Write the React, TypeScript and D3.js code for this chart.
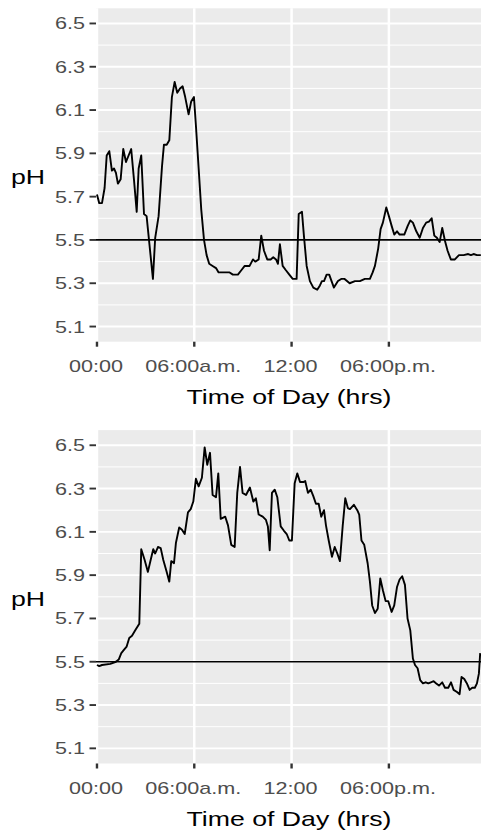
import React, { useEffect, useRef } from "react";
import * as d3 from "d3";

// hours since midnight and pH readings, day 1 (top) and day 2 (bottom)
const topHours = [0, 0.14, 0.31, 0.47, 0.6, 0.76, 0.92, 1.05, 1.17, 1.29, 1.46, 1.62, 1.79, 1.95, 2.11, 2.28, 2.45, 2.57, 2.73, 2.9, 3.06, 3.45, 3.59, 3.8, 4.01, 4.13, 4.3, 4.46, 4.54, 4.62, 4.79, 4.95, 5.12, 5.28, 5.44, 5.65, 5.81, 5.98, 6.1, 6.27, 6.43, 6.6, 6.76, 6.92, 7.13, 7.34, 7.5, 7.71, 8.18, 8.38, 8.69, 8.9, 9.11, 9.41, 9.62, 9.76, 9.97, 10.13, 10.3, 10.5, 10.71, 10.87, 11.04, 11.16, 11.28, 11.45, 11.65, 11.86, 12.07, 12.31, 12.44, 12.64, 12.76, 12.93, 13.13, 13.34, 13.58, 13.75, 13.87, 14.0, 14.16, 14.32, 14.61, 14.86, 15.06, 15.27, 15.58, 15.91, 16.21, 16.52, 16.83, 17.0, 17.14, 17.34, 17.49, 17.63, 17.84, 18.0, 18.17, 18.33, 18.5, 18.66, 18.95, 19.16, 19.32, 19.48, 19.69, 19.9, 20.1, 20.3, 20.47, 20.64, 20.8, 20.96, 21.13, 21.29, 21.46, 21.62, 21.82, 22.07, 22.32, 22.61, 22.89, 23.06, 23.22, 23.43, 23.67];
const topPH = [5.71, 5.67, 5.67, 5.74, 5.89, 5.91, 5.82, 5.83, 5.81, 5.76, 5.78, 5.92, 5.86, 5.89, 5.92, 5.78, 5.63, 5.83, 5.89, 5.62, 5.61, 5.32, 5.51, 5.61, 5.84, 5.94, 5.94, 5.96, 6.06, 6.16, 6.23, 6.18, 6.2, 6.21, 6.16, 6.08, 6.14, 6.16, 6.03, 5.83, 5.64, 5.5, 5.43, 5.39, 5.38, 5.37, 5.35, 5.35, 5.35, 5.34, 5.34, 5.36, 5.38, 5.38, 5.41, 5.4, 5.41, 5.52, 5.45, 5.41, 5.41, 5.42, 5.41, 5.39, 5.48, 5.38, 5.36, 5.34, 5.32, 5.32, 5.62, 5.63, 5.52, 5.38, 5.31, 5.28, 5.27, 5.29, 5.31, 5.31, 5.34, 5.34, 5.28, 5.31, 5.32, 5.32, 5.3, 5.31, 5.31, 5.32, 5.32, 5.35, 5.38, 5.46, 5.55, 5.58, 5.65, 5.61, 5.565, 5.525, 5.54, 5.525, 5.525, 5.565, 5.59, 5.58, 5.54, 5.51, 5.555, 5.58, 5.585, 5.6, 5.52, 5.51, 5.49, 5.555, 5.495, 5.45, 5.41, 5.41, 5.43, 5.43, 5.435, 5.43, 5.435, 5.43, 5.43];

const bottomHours = [0, 0.14, 0.31, 0.82, 1.17, 1.34, 1.5, 1.66, 1.83, 1.99, 2.16, 2.36, 2.61, 2.73, 2.94, 3.14, 3.31, 3.47, 3.59, 3.76, 3.93, 4.09, 4.3, 4.46, 4.58, 4.75, 4.87, 5.07, 5.24, 5.41, 5.61, 5.78, 5.94, 6.1, 6.27, 6.47, 6.64, 6.8, 6.97, 7.13, 7.34, 7.48, 7.63, 7.91, 8.08, 8.28, 8.49, 8.65, 8.82, 8.98, 9.19, 9.43, 9.64, 9.8, 9.97, 10.22, 10.42, 10.54, 10.65, 10.79, 10.96, 11.12, 11.33, 11.53, 11.7, 11.86, 12.02, 12.19, 12.35, 12.52, 12.72, 12.84, 13.01, 13.18, 13.34, 13.5, 13.67, 13.83, 14.0, 14.12, 14.29, 14.49, 14.66, 14.82, 14.98, 15.15, 15.31, 15.47, 15.6, 15.84, 16.05, 16.17, 16.31, 16.48, 16.69, 16.83, 16.97, 17.14, 17.31, 17.47, 17.63, 17.8, 17.96, 18.17, 18.33, 18.5, 18.66, 18.82, 18.99, 19.15, 19.32, 19.48, 19.61, 19.77, 19.93, 20.1, 20.27, 20.43, 20.59, 20.76, 20.92, 21.09, 21.29, 21.46, 21.66, 21.83, 21.99, 22.2, 22.36, 22.48, 22.65, 22.81, 22.98, 23.14, 23.3, 23.43, 23.55, 23.63];
const bottomPH = [5.485, 5.48, 5.485, 5.49, 5.5, 5.51, 5.54, 5.555, 5.57, 5.61, 5.62, 5.645, 5.675, 6.02, 5.97, 5.915, 5.97, 6.02, 6.0, 6.03, 6.025, 5.97, 5.915, 5.87, 5.965, 5.955, 6.05, 6.12, 6.11, 6.09, 6.19, 6.205, 6.24, 6.345, 6.31, 6.35, 6.49, 6.41, 6.465, 6.27, 6.26, 6.37, 6.16, 6.17, 6.13, 6.04, 6.03, 6.28, 6.4, 6.28, 6.27, 6.305, 6.24, 6.255, 6.18, 6.17, 6.155, 6.125, 6.015, 6.28, 6.295, 6.26, 6.125, 6.105, 6.09, 6.06, 6.06, 6.325, 6.37, 6.33, 6.33, 6.335, 6.28, 6.295, 6.265, 6.23, 6.23, 6.17, 6.2, 6.13, 6.06, 5.985, 6.03, 6.0, 5.965, 6.125, 6.255, 6.21, 6.205, 6.225, 6.2, 6.18, 6.06, 6.04, 5.955, 5.87, 5.76, 5.725, 5.745, 5.885, 5.83, 5.78, 5.78, 5.73, 5.76, 5.845, 5.88, 5.895, 5.855, 5.7, 5.645, 5.515, 5.485, 5.47, 5.415, 5.4, 5.405, 5.4, 5.405, 5.41, 5.4, 5.39, 5.405, 5.38, 5.38, 5.405, 5.37, 5.36, 5.35, 5.43, 5.42, 5.4, 5.37, 5.38, 5.38, 5.4, 5.445, 5.54];

const xTicks = [0, 6, 12, 18];
const xTickLabels = ["00:00", "06:00a.m.", "12:00", "06:00p.m."];
const yTicks = [5.1, 5.3, 5.5, 5.7, 5.9, 6.1, 6.3, 6.5];
const yMinor = [5.2, 5.4, 5.6, 5.8, 6.0, 6.2, 6.4];
const targetPH = 5.5;

const FONT = "'Liberation Sans', Arial, Helvetica, sans-serif";
const STRETCH = 1.27; // the picture is wider than tall, text is stretched too

const App = () => {
  const svgRef = useRef(null);

  useEffect(() => {
    const svg = d3.select(svgRef.current);
    svg.selectAll("*").remove();

    const left = 96;
    const right = 481;
    const panelH = 333.4;

    const x = d3.scaleLinear().domain([-0.06, 23.68]).range([left, right]);

    const drawPanel = (hours, ph, top, id) => {
      const bottom = top + panelH;
      const y = d3.scaleLinear().domain([5.03, 6.57]).range([bottom, top]);
      const g = svg.append("g");

      g.append("clipPath")
        .attr("id", id)
        .append("rect")
        .attr("x", left)
        .attr("y", top)
        .attr("width", right - left)
        .attr("height", panelH);

      g.append("rect")
        .attr("x", left)
        .attr("y", top)
        .attr("width", right - left)
        .attr("height", panelH)
        .attr("fill", "#EBEBEB");

      g.selectAll(".minor")
        .data(yMinor)
        .enter()
        .append("line")
        .attr("x1", left)
        .attr("x2", right)
        .attr("y1", (d) => y(d))
        .attr("y2", (d) => y(d))
        .attr("stroke", "white")
        .attr("stroke-width", 1);

      g.selectAll(".major")
        .data(yTicks)
        .enter()
        .append("line")
        .attr("x1", left)
        .attr("x2", right)
        .attr("y1", (d) => y(d))
        .attr("y2", (d) => y(d))
        .attr("stroke", "white")
        .attr("stroke-width", 1.9);

      g.selectAll(".vgrid")
        .data(xTicks)
        .enter()
        .append("line")
        .attr("x1", (d) => x(d))
        .attr("x2", (d) => x(d))
        .attr("y1", top)
        .attr("y2", bottom)
        .attr("stroke", "white")
        .attr("stroke-width", 2.5);

      // 5.5 reference line
      g.append("line")
        .attr("x1", left)
        .attr("x2", right)
        .attr("y1", y(targetPH))
        .attr("y2", y(targetPH))
        .attr("stroke", "black")
        .attr("stroke-width", 1.7);

      const line = d3
        .line()
        .x((d, i) => x(hours[i]))
        .y((d) => y(d));

      g.append("path")
        .attr("d", line(ph))
        .attr("fill", "none")
        .attr("stroke", "black")
        .attr("stroke-width", 1.9)
        .attr("stroke-linejoin", "round")
        .attr("clip-path", `url(#${id})`);

      // y axis
      g.selectAll(".ytick")
        .data(yTicks)
        .enter()
        .append("line")
        .attr("x1", left - 6.5)
        .attr("x2", left)
        .attr("y1", (d) => y(d))
        .attr("y2", (d) => y(d))
        .attr("stroke", "#333333")
        .attr("stroke-width", 1.9);

      g.selectAll(".ylab")
        .data(yTicks)
        .enter()
        .append("text")
        .attr("transform", (d) => `translate(85, ${y(d) + 6}) scale(${STRETCH},1)`)
        .attr("text-anchor", "end")
        .attr("fill", "#4D4D4D")
        .style("font-family", FONT)
        .style("font-size", "17px")
        .text((d) => d.toFixed(1));

      // x axis
      g.selectAll(".xtick")
        .data(xTicks)
        .enter()
        .append("line")
        .attr("x1", (d) => x(d))
        .attr("x2", (d) => x(d))
        .attr("y1", bottom)
        .attr("y2", bottom + 5)
        .attr("stroke", "#333333")
        .attr("stroke-width", 2.4);

      g.selectAll(".xlab")
        .data(xTicks)
        .enter()
        .append("text")
        .attr("transform", (d) => `translate(${x(d) - 1}, ${bottom + 30}) scale(${STRETCH},1)`)
        .attr("text-anchor", "middle")
        .attr("fill", "#4D4D4D")
        .style("font-family", FONT)
        .style("font-size", "17px")
        .text((d, i) => xTickLabels[i]);

      g.append("text")
        .attr("transform", `translate(289, ${bottom + 62}) scale(${STRETCH},1)`)
        .attr("text-anchor", "middle")
        .attr("fill", "black")
        .style("font-family", FONT)
        .style("font-size", "21px")
        .text("Time of Day (hrs)");

      g.append("text")
        .attr("transform", `translate(28, ${(top + bottom) / 2 + 9}) scale(${STRETCH},1)`)
        .attr("text-anchor", "middle")
        .attr("fill", "black")
        .style("font-family", FONT)
        .style("font-size", "21px")
        .text("pH");
    };

    drawPanel(topHours, topPH, 8.3, "clip-top");
    drawPanel(bottomHours, bottomPH, 430.1, "clip-bottom");
  }, []);

  return (
    <svg
      ref={svgRef}
      width={481}
      height={832}
      style={{ position: "absolute", left: 0, top: 0, background: "white", display: "block" }}
    ></svg>
  );
};

export default App;
